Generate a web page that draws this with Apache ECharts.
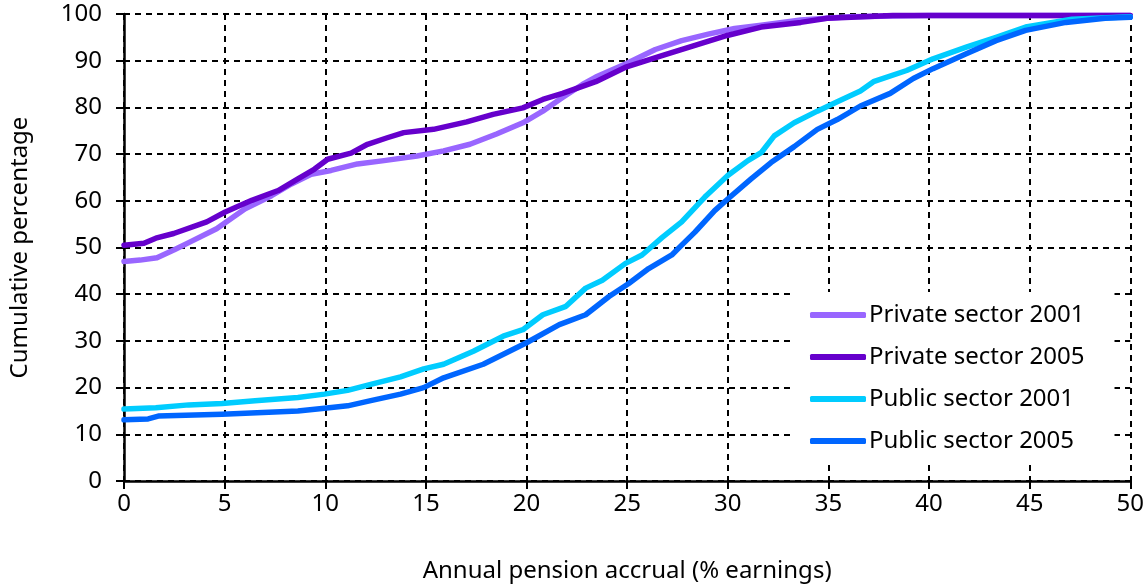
<!DOCTYPE html>
<html>
<head>
<meta charset="utf-8">
<script src="https://cdn.jsdelivr.net/npm/echarts@6/dist/echarts.min.js"></script>
<style>
html,body{margin:0;padding:0;background:#fff;}
#chart{width:1147px;height:588px;}
</style>
</head>
<body>
<div id="chart"></div>
<script>
const seriesNames = ['Private sector 2001', 'Private sector 2005', 'Public sector 2001', 'Public sector 2005'];
const seriesColors = ['#9966FF', '#6600CC', '#00CCFF', '#0066FF'];

const private2001 = [[0,47.0],[0.8,47.3],[1.64,47.8],[2.5,49.5],[3.29,51.2],[4.6,54.0],[6.02,58.3],[7.33,61.1],[8.32,63.6],[9.3,65.7],[10.29,66.5],[11.6,67.9],[12.92,68.6],[14.56,69.6],[15.88,70.7],[17.19,72.1],[18.51,74.3],[19.82,76.7],[20.81,79.2],[21.79,82.1],[22.78,84.9],[23.44,86.5],[24.97,89.4],[26.4,92.4],[27.71,94.3],[29.03,95.7],[30.34,96.9],[31.66,97.6],[33.63,98.7],[36,99.4],[40,99.7],[50,99.7]];

const private2005 = [[0,50.5],[0.99,50.9],[1.58,52.0],[2.47,53.0],[4.11,55.5],[5.03,57.6],[6.35,60.1],[7.66,62.2],[8.64,64.7],[9.47,66.8],[10.12,68.9],[11.28,70.2],[12.1,72.1],[13.08,73.5],[13.9,74.6],[15.38,75.3],[17.03,76.9],[18.34,78.5],[19.82,79.9],[20.81,81.7],[21.79,83.0],[23.44,85.5],[24.97,88.7],[26.73,91.1],[28.37,93.3],[29.97,95.4],[31.66,97.2],[33.63,98.2],[34.94,99.1],[38.2,99.7],[50,99.7]];

const public2001 = [[0,15.4],[1.58,15.7],[3.22,16.3],[4.87,16.6],[6.51,17.2],[8.64,17.9],[9.96,18.6],[11.11,19.4],[12.26,20.7],[13.74,22.3],[14.89,24.0],[15.88,25.0],[17.36,27.8],[18.84,31.0],[19.82,32.4],[20.81,35.6],[21.96,37.4],[22.94,41.3],[23.77,43.0],[24.92,46.6],[25.74,48.4],[26.73,52.1],[27.71,55.5],[28.86,60.8],[30.0,65.4],[31.0,68.6],[31.66,70.3],[32.31,73.9],[33.3,76.7],[34.45,79.2],[35.44,81.2],[36.59,83.5],[37.24,85.5],[38.89,87.9],[40.2,90.4],[41.85,92.9],[43.33,95.0],[44.8,97.2],[47.1,98.9],[50,99.4]];

const public2005 = [[0,13.1],[1.2,13.3],[1.7,13.9],[4.87,14.3],[8.64,15.0],[9.96,15.6],[11.11,16.1],[12.26,17.2],[13.74,18.6],[14.89,20.0],[15.88,22.1],[17.85,25.0],[20.0,29.6],[21.63,33.5],[22.94,35.6],[24.1,39.5],[25.08,42.3],[26.07,45.5],[27.22,48.4],[27.71,50.5],[28.37,53.3],[29.35,57.9],[30.0,60.4],[31.16,64.7],[32.15,68.2],[33.3,71.6],[34.45,75.3],[35.44,77.4],[36.59,80.3],[38.07,83.0],[39.22,86.2],[40.2,88.3],[41.85,91.5],[43.33,94.3],[44.8,96.5],[46.8,98.2],[48.75,99.1],[50,99.3]];

const allData = [private2001, private2005, public2001, public2005];

const xTitle = 'Annual pension accrual (% earnings)';
const yTitle = 'Cumulative percentage';

const FONT = 'Noto Sans';
const FS = 24;
const chart = echarts.init(document.getElementById('chart'), null, {renderer: 'canvas'});

const gridLine = {show: true, lineStyle: {color: '#000', width: 2, type: [6, 5]}};

chart.setOption({
  animation: false,
  backgroundColor: '#fff',
  textStyle: {fontFamily: FONT},
  grid: {left: 118, right: 15, top: 14, bottom: 104, containLabel: false},
  legend: {
    orient: 'vertical',
    left: 790,
    top: 292,
    backgroundColor: '#fff',
    padding: [11, 30, 11, 20],
    itemGap: 18,
    itemWidth: 56,
    itemHeight: 6,
    icon: 'roundRect',
    textStyle: {fontFamily: FONT, fontSize: FS, color: '#000', lineHeight: 24, padding: [0, 0, 0, -2]},
    data: seriesNames
  },
  xAxis: {
    type: 'value',
    min: 0, max: 50, interval: 5,
    name: xTitle,
    nameLocation: 'middle',
    nameGap: 78,
    nameTextStyle: {fontFamily: FONT, fontSize: FS, color: '#000'},
    axisLine: {show: true, onZero: false, lineStyle: {color: '#000', width: 2.5}},
    axisTick: {show: true, inside: false, length: 8, lineStyle: {color: '#000', width: 2}},
    axisLabel: {fontFamily: FONT, fontSize: FS, color: '#000', margin: 11},
    splitLine: gridLine
  },
  yAxis: {
    type: 'value',
    min: 0, max: 100, interval: 10,
    name: yTitle,
    nameLocation: 'middle',
    nameGap: 92,
    nameRotate: 90,
    nameTextStyle: {fontFamily: FONT, fontSize: FS, color: '#000'},
    axisLine: {show: true, lineStyle: {color: '#000', width: 2.5}},
    axisTick: {show: true, inside: false, length: 8, lineStyle: {color: '#000', width: 2}},
    axisLabel: {fontFamily: FONT, fontSize: FS, color: '#000', margin: 22},
    splitLine: gridLine
  },
  series: seriesNames.map((n, i) => ({
    name: n,
    type: 'line',
    data: allData[i],
    showSymbol: false,
    symbol: 'none',
    smooth: false,
    color: seriesColors[i],
    lineStyle: {color: seriesColors[i], width: 5.5, cap: 'round', join: 'round'},
    itemStyle: {color: seriesColors[i]}
  }))
});
</script>
</body>
</html>
